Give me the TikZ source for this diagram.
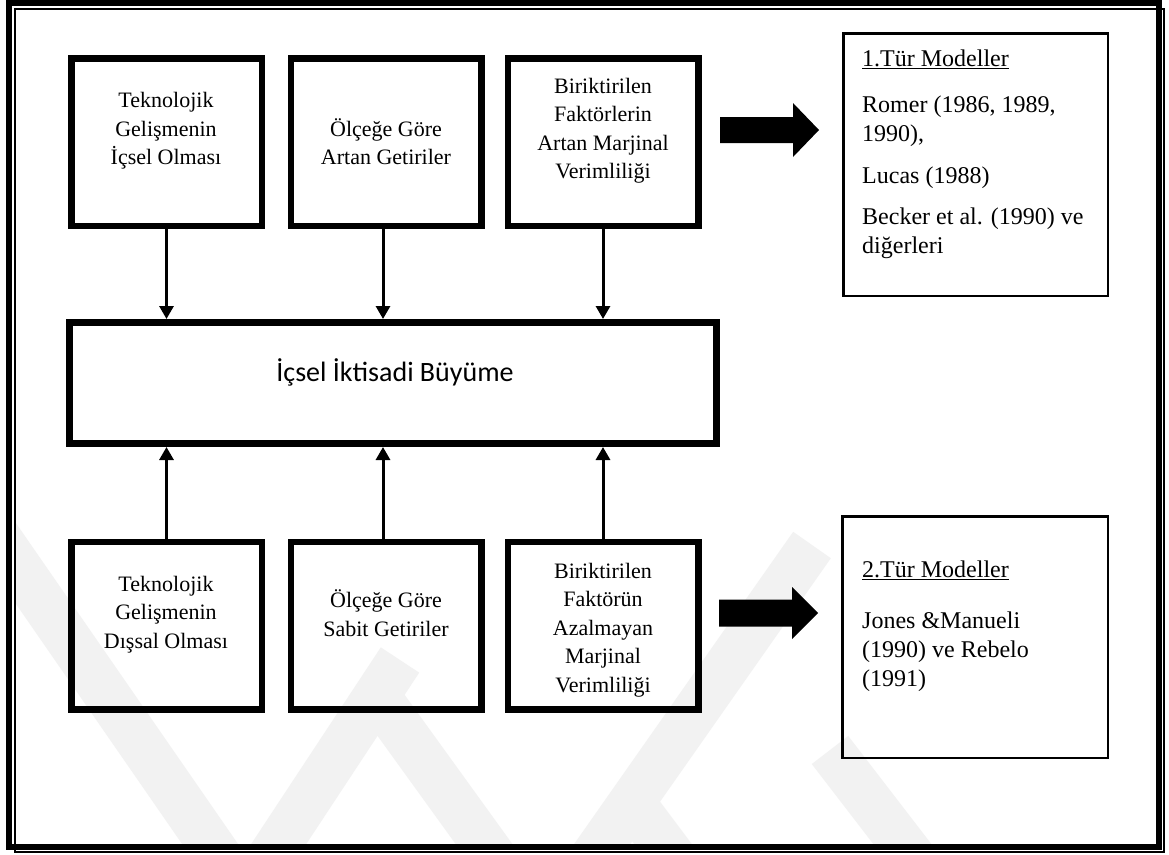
\documentclass[tikz,border=0pt]{standalone}
\usepackage{fontspec}
\setmainfont{Liberation Serif}
\newfontfamily\calib{Carlito}
\usetikzlibrary{arrows.meta}
\tikzset{
  x=1pt, y=-1pt,
  mainbox/.style={draw, line width=6.5pt, inner sep=0pt, minimum width=190.5pt, minimum height=167.5pt},
  refbox/.style={draw, line width=2.5pt, inner sep=0pt},
  boxtext/.style={anchor=base, inner sep=0pt},
  link/.style={line width=3pt, -{Triangle[length=13pt,width=14pt]}},
  fatarrow/.style={fill=black},
  wm/.style={line width=46pt, black!5}
}
\newcommand{\ctext}[1]{\parbox[t]{200pt}{\centering\fontsize{22}{28.5}\selectfont #1}}
\newcommand{\ltext}[1]{\parbox[t]{240pt}{\raggedright\fontsize{24}{29}\selectfont #1}}
\begin{document}
\begin{tikzpicture}
\useasboundingbox (0,0) rectangle (1169,854);
\fill[white] (0,0) rectangle (1169,854);
% watermark (faint)
\begin{scope}
\clip (16,10) rectangle (1156,844);
\draw[wm] (-10,526) -- (235,880);
\draw[wm] (255,880) -- (400,660);
\draw[wm] (380,700) -- (510,880);
\draw[wm] (577,880) -- (812,545);
\draw[wm] (630,800) -- (690,880);
\draw[wm] (830,750) -- (930,880);
\end{scope}
% page border
\draw[line width=6pt] (9,3) rectangle (1158.5,846.5);
\draw[line width=2pt] (15,9) rectangle (1164,851.5);
% top boxes
\node[mainbox] (tb1) at (166.5,142) {};
\node[mainbox] (tb2) at (386,142) {};
\node[mainbox] (tb3) at (603,142) {};
% bottom boxes
\node[mainbox] (bb1) at (166.5,625.5) {};
\node[mainbox] (bb2) at (386,625.5) {};
\node[mainbox] (bb3) at (603,625.5) {};
% central box
\node[draw, line width=7pt, inner sep=0pt, minimum width=647pt, minimum height=121pt] (c) at (393,383) {};
\node[boxtext] (ct) at (395,381.5) {\calib\fontsize{28}{32}\selectfont İçsel İktisadi Büyüme};
% texts in top boxes
\node[boxtext] (tt1) at (166,107.5) {\ctext{Teknolojik\\Gelişmenin\\İçsel Olması}};
\node[boxtext] (tt2) at (386,136) {\ctext{Ölçeğe Göre\\Artan Getiriler}};
\node[boxtext] (tt3) at (603,93) {\ctext{Biriktirilen\\Faktörlerin\\Artan Marjinal\\Verimliliği}};
% texts in bottom boxes
\node[boxtext] (bt1) at (166,591) {\ctext{Teknolojik\\Gelişmenin\\Dışsal Olması}};
\node[boxtext] (bt2) at (386,607.5) {\ctext{Ölçeğe Göre\\Sabit Getiriler}};
\node[boxtext] (bt3) at (603,578) {\ctext{Biriktirilen\\Faktörün\\Azalmayan\\Marjinal\\Verimliliği}};
% connectors
\draw[link] (tb1.south) -- (tb1.south |- c.north);
\draw[link] ([xshift=-3pt]tb2.south) -- ([xshift=-3pt]tb2.south |- c.north);
\draw[link] (tb3.south) -- (tb3.south |- c.north);
\draw[link] (bb1.north) -- (bb1.north |- c.south);
\draw[link] ([xshift=-3pt]bb2.north) -- ([xshift=-3pt]bb2.north |- c.south);
\draw[link] (bb3.north) -- (bb3.north |- c.south);
% fat arrows
\fill[fatarrow] (720,117) -- (793,117) -- (793,103) -- (819,130) -- (793,157) -- (793,143) -- (720,143) -- cycle;
\fill[fatarrow] (719,599.5) -- (792,599.5) -- (792,587) -- (818,613) -- (792,639) -- (792,626.5) -- (719,626.5) -- cycle;
% reference boxes
\node[refbox, minimum width=264.5pt, minimum height=262.5pt] (r1) at (975.5,164.5) {};
\node[refbox, minimum width=265.5pt, minimum height=241.5pt] (r2) at (975,637) {};
\node[boxtext, anchor=base west] (r1a) at (862,66) {\fontsize{24}{29}\selectfont\underline{1.Tür Modeller}};
\node[boxtext, anchor=base west] (r1b) at (862,112) {\ltext{Romer (1986, 1989,\\1990),}};
\node[boxtext, anchor=base west] (r1c) at (862,183) {\ltext{Lucas (1988)}};
\node[boxtext, anchor=base west] (r1d) at (862,224) {\ltext{Becker et al. (1990) ve\\diğerleri}};
\node[boxtext, anchor=base west] (r2a) at (862,577) {\fontsize{24}{29}\selectfont\underline{2.Tür Modeller}};
\node[boxtext, anchor=base west] (r2b) at (862,628) {\ltext{Jones \&Manueli\\(1990) ve Rebelo\\(1991)}};
\end{tikzpicture}
\end{document}
